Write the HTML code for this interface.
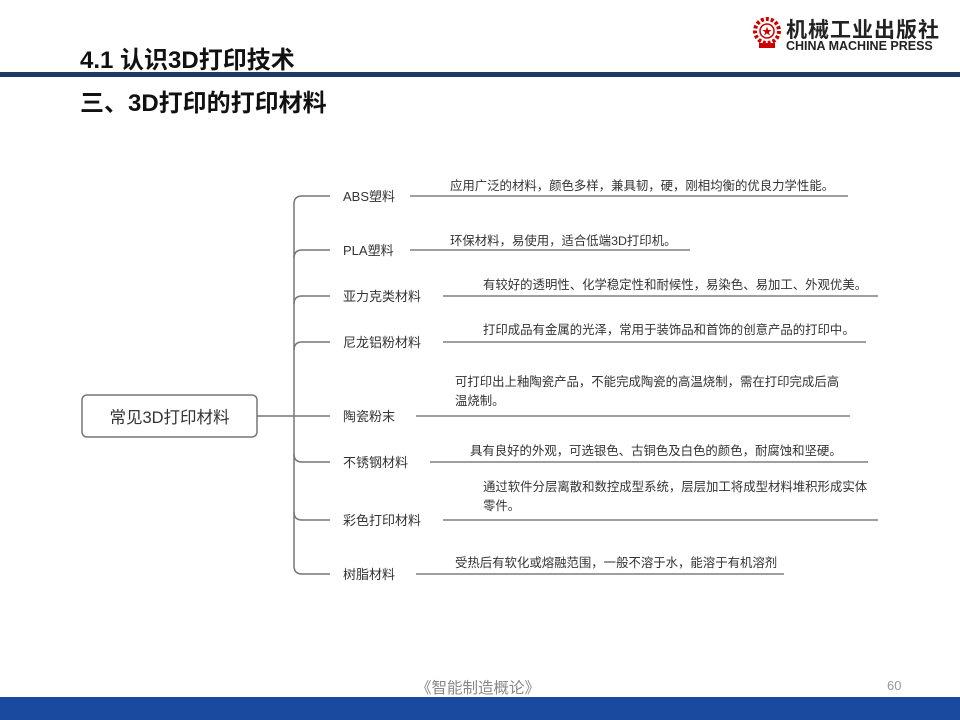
<!DOCTYPE html>
<html><head><meta charset="utf-8"><style>
body{margin:0;width:960px;height:720px;position:relative;background:#fff;overflow:hidden;font-family:"Liberation Sans","Noto Sans CJK SC",sans-serif}
.a{position:absolute;white-space:nowrap}
.h{font-weight:bold;font-size:24px;color:#111}
.lb{font-size:13px;color:#333}
.d{font-size:12.4px;color:#333}
</style></head><body>
<div class="a h" style="left:80px;top:40px">4.1 认识3D打印技术</div>
<div class="a" style="left:0;top:72px;width:960px;height:5px;background:#1f3864"></div>
<div class="a h" style="left:80px;top:83px">三、3D打印的打印材料</div>
<svg class="a" style="left:752px;top:16px" width="30" height="34" viewBox="0 0 30 34"><circle cx="15" cy="15" r="12" fill="none" stroke="#c00" stroke-width="4" stroke-dasharray="3 2"/><circle cx="15" cy="15" r="7" fill="#fff" stroke="#c00" stroke-width="1.5"/><text x="15" y="19" font-size="10" fill="#c00" text-anchor="middle">★</text><rect x="7" y="27" width="16" height="5" fill="#c00"/></svg>
<div class="a" style="left:786px;top:14px;font-size:21px;font-weight:bold;color:#222;letter-spacing:1px">机械工业出版社</div>
<div class="a" style="left:786px;top:39px;font-size:12.5px;font-weight:bold;color:#222">CHINA MACHINE PRESS</div>

<svg class="a" style="left:0;top:0" width="960" height="720">
<g fill="none" stroke="#777" stroke-width="1.5">
<rect x="82" y="395" width="175" height="42" rx="5"/>
<line x1="257" y1="416" x2="330" y2="416"/>
<path d="M330 196 H302 Q294 196 294 204 V566 Q294 574 302 574 H330"/>
<path d="M330 250 H302 Q294 250 294 258"/>
<path d="M330 296 H302 Q294 296 294 304"/>
<path d="M330 342 H302 Q294 342 294 350"/>
<path d="M294 454 Q294 462 302 462 H330"/>
<path d="M294 512 Q294 520 302 520 H330"/>
</g>
<g stroke="#666" stroke-width="1.3">
<line x1="410" y1="196" x2="848" y2="196"/>
<line x1="410" y1="250" x2="690" y2="250"/>
<line x1="443" y1="296" x2="878" y2="296"/>
<line x1="443" y1="342" x2="866" y2="342"/>
<line x1="416" y1="416" x2="850" y2="416"/>
<line x1="430" y1="462" x2="868" y2="462"/>
<line x1="443" y1="520" x2="878" y2="520"/>
<line x1="416" y1="574" x2="784" y2="574"/>
</g>
</svg>
<div class="a" style="left:82px;top:404px;width:175px;text-align:center;font-size:16.5px;color:#333">常见3D打印材料</div>
<div class="a lb" style="left:343px;top:186px">ABS塑料</div>
<div class="a lb" style="left:343px;top:240px">PLA塑料</div>
<div class="a lb" style="left:343px;top:286px">亚力克类材料</div>
<div class="a lb" style="left:343px;top:332px">尼龙铝粉材料</div>
<div class="a lb" style="left:343px;top:406px">陶瓷粉末</div>
<div class="a lb" style="left:343px;top:452px">不锈钢材料</div>
<div class="a lb" style="left:343px;top:510px">彩色打印材料</div>
<div class="a lb" style="left:343px;top:564px">树脂材料</div>
<div class="a d" style="left:450px;top:176px">应用广泛的材料，颜色多样，兼具韧，硬，刚相均衡的优良力学性能。</div>
<div class="a d" style="left:450px;top:231px">环保材料，易使用，适合低端3D打印机。</div>
<div class="a d" style="left:483px;top:275px">有较好的透明性、化学稳定性和耐候性，易染色、易加工、外观优美。</div>
<div class="a d" style="left:483px;top:320px">打印成品有金属的光泽，常用于装饰品和首饰的创意产品的打印中。</div>
<div class="a d" style="left:455px;top:373px;line-height:19px">可打印出上釉陶瓷产品，不能完成陶瓷的高温烧制，需在打印完成后高<br>温烧制。</div>
<div class="a d" style="left:470px;top:441px">具有良好的外观，可选银色、古铜色及白色的颜色，耐腐蚀和坚硬。</div>
<div class="a d" style="left:483px;top:478px;line-height:19px">通过软件分层离散和数控成型系统，层层加工将成型材料堆积形成实体<br>零件。</div>
<div class="a d" style="left:455px;top:553px">受热后有软化或熔融范围，一般不溶于水，能溶于有机溶剂</div>
<div class="a" style="left:416px;top:676px;font-size:15.5px;color:#888">《智能制造概论》</div>
<div class="a" style="left:887px;top:678px;font-size:13px;color:#999">60</div>
<div class="a" style="left:0;top:697px;width:960px;height:23px;background:#1a4a9f"></div>
</body></html>
